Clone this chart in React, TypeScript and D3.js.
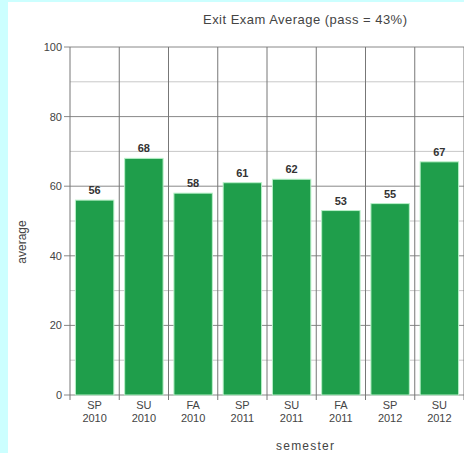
import React from "react";
import * as d3 from "d3";

const terms = ["SP", "SU", "FA", "SP", "SU", "FA", "SP", "SU"];
const years = ["2010", "2010", "2010", "2011", "2011", "2011", "2012", "2012"];
const averages = [56, 68, 58, 61, 62, 53, 55, 67];
const yTicks = [0, 20, 40, 60, 80, 100];
const yMinor = [10, 30, 50, 70, 90];

const W = 464, H = 453;
const left = 70, right = 464, top = 47, bottom = 395;

export default function App() {
  const idx = terms.map((_, i) => String(i));
  const x = d3.scaleBand<string>().domain(idx).range([left, right]).paddingInner(0.22).paddingOuter(0.11);
  const xb = d3.scaleLinear().domain([0, terms.length]).range([left, right]);
  const y = d3.scaleLinear().domain([0, 100]).range([bottom, top]);
  const font = "Arial, 'Liberation Sans', sans-serif";
  const txt = "#444";
  return (
    <svg width={W} height={H} style={{ position: "fixed", left: 0, top: 0 }} fontFamily={font}>
      <rect width={W} height={H} fill="#ccffff" />
      <rect x={8} y={2} width={W - 8} height={H - 2} fill="#ffffff" />
      <text x={305} y={24} textAnchor="middle" fontSize={13} textLength={204} fill={txt}>Exit Exam Average (pass = 43%)</text>
      {yMinor.map(v => (
        <line key={"m" + v} x1={left} x2={right} y1={y(v)} y2={y(v)} stroke="#c8c8c8" strokeWidth={1} />
      ))}
      {yTicks.map(v => (
        <g key={"t" + v}>
          <line x1={left - 6} x2={right} y1={y(v)} y2={y(v)} stroke="#888" strokeWidth={1} />
          <text x={left - 8} y={y(v) + 4} textAnchor="end" fontSize={11} fill={txt}>{v}</text>
        </g>
      ))}
      {d3.range(terms.length + 1).map(i => (
        <line key={"v" + i} x1={xb(i)} x2={xb(i)} y1={top} y2={bottom + 5} stroke="#777" strokeWidth={1} />
      ))}
      {averages.map((v, i) => (
        <g key={"b" + i}>
          <rect x={x(String(i))} y={y(v)} width={x.bandwidth()} height={y(0) - y(v)} fill="#1f9e4b" stroke="#b8f0c8" strokeWidth={1} />
          <text x={(x(String(i)) as number) + x.bandwidth() / 2} y={y(v) - 6} textAnchor="middle" fontSize={11} fontWeight="bold" fill="#333">{v}</text>
          <text x={xb(i + 0.5)} y={409} textAnchor="middle" fontSize={11} fill={txt}>{terms[i]}</text>
          <text x={xb(i + 0.5)} y={422} textAnchor="middle" fontSize={11} fill={txt}>{years[i]}</text>
        </g>
      ))}
      <text x={305} y={450} textAnchor="middle" fontSize={12} textLength={58} fill={txt}>semester</text>
      <text transform={`translate(26,242) rotate(-90)`} textAnchor="middle" fontSize={12} fill={txt}>average</text>
    </svg>
  );
}
